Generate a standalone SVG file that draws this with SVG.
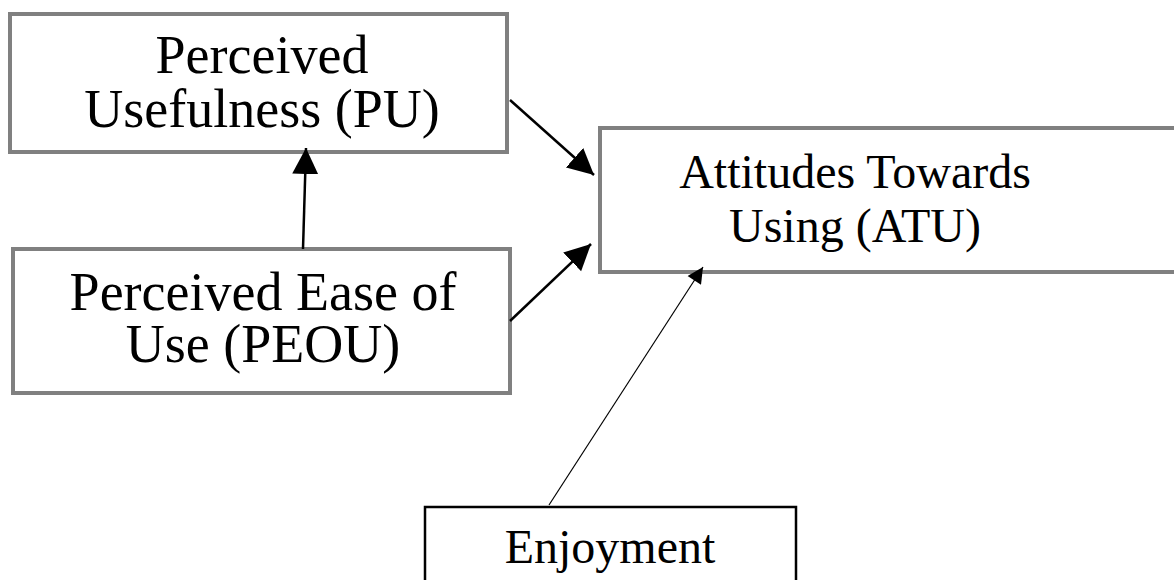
<svg xmlns="http://www.w3.org/2000/svg" width="1174" height="580" viewBox="0 0 1174 580">
<defs>
<style>
.box{fill:#fff;stroke:#808080;stroke-width:4}
.box2{fill:#fff;stroke:#000;stroke-width:2.5}
.t{font-family:"Liberation Serif","Times New Roman",serif;fill:#000;text-anchor:middle}
.big{font-size:54px}
.mid{font-size:48px}
.c{stroke:#000;stroke-width:2.5;fill:none}
.c2{stroke:#000;stroke-width:1.2;fill:none}
</style>
<marker id="ah" viewBox="0 0 10 10" refX="10" refY="5" markerUnits="userSpaceOnUse" markerWidth="26" markerHeight="27" orient="auto">
<path d="M0,0 L10,5 L0,10 z" fill="#000"/>
</marker>
<marker id="ahs" viewBox="0 0 10 10" refX="10" refY="5" markerUnits="userSpaceOnUse" markerWidth="20" markerHeight="16" orient="auto">
<path d="M0,0 L10,5 L0,10 z" fill="#000"/>
</marker>
</defs>
<rect width="1174" height="580" fill="#fff"/>
<g id="pu">
<rect class="box" x="10" y="14" width="497" height="138"/>
<text class="t big" x="262" y="73">Perceived</text>
<text class="t big" x="262" y="127">Usefulness (PU)</text>
</g>
<g id="peou">
<rect class="box" x="13" y="249" width="497" height="144"/>
<text class="t big" x="263" y="310">Perceived Ease of</text>
<text class="t big" x="263" y="362">Use (PEOU)</text>
</g>
<g id="atu">
<rect class="box" x="600" y="128" width="590" height="144"/>
<text class="t mid" x="855" y="188">Attitudes Towards</text>
<text class="t mid" x="855" y="242">Using (ATU)</text>
</g>
<g id="enjoyment">
<rect class="box2" x="425" y="507" width="371" height="100"/>
<text class="t mid" x="610" y="563">Enjoyment</text>
</g>
<g id="connectors">
<line class="c" x1="303" y1="249" x2="306" y2="148" marker-end="url(#ah)"/>
<line class="c" x1="510" y1="100" x2="594" y2="175" marker-end="url(#ah)"/>
<line class="c" x1="510" y1="321" x2="591" y2="244" marker-end="url(#ah)"/>
<line class="c2" x1="549" y1="505" x2="703" y2="267" marker-end="url(#ahs)"/>
</g>
</svg>
